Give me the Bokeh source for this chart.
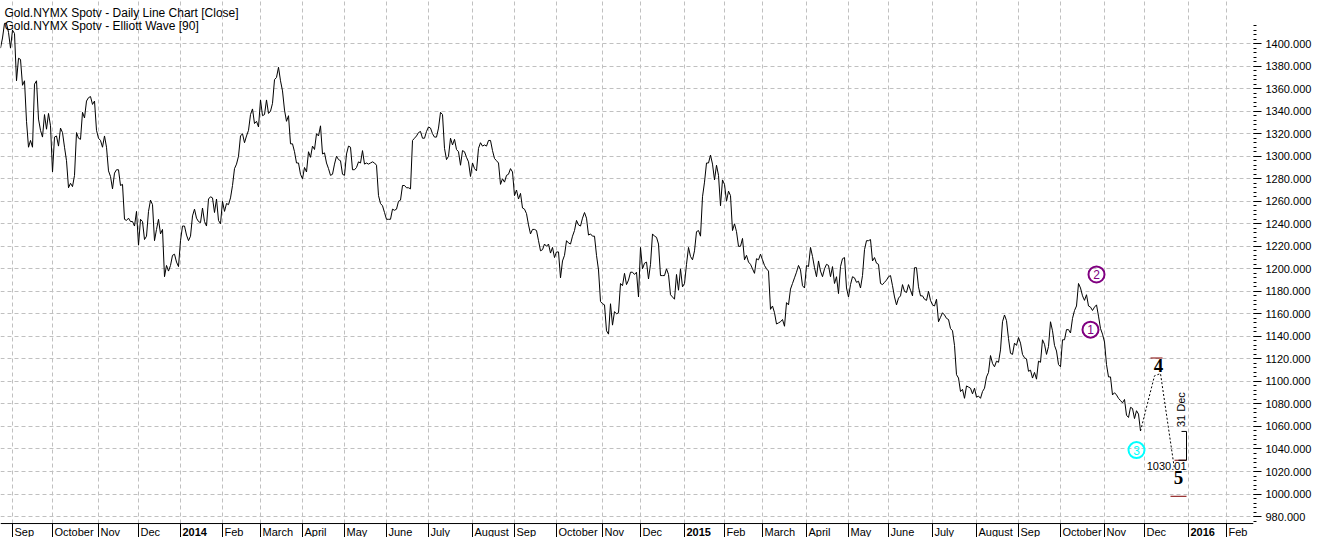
import math
import pandas as pd
from bokeh.plotting import figure
from bokeh.models import (Range1d, LinearAxis, FixedTicker, PrintfTickFormatter, Label,
                          ColumnDataSource, Span)
from bokeh.core.properties import value
from bokeh.embed import file_html
from bokeh.resources import INLINE

# ---------------- data ----------------
HOLIDAYS = ["2013-09-02", "2013-11-28", "2013-12-25",
            "2014-01-01", "2014-01-20", "2014-02-17", "2014-04-18", "2014-05-26", "2014-07-04",
            "2014-09-01", "2014-11-27", "2014-12-25",
            "2015-01-01", "2015-01-19", "2015-02-16", "2015-04-03", "2015-05-25", "2015-07-03",
            "2015-09-07", "2015-11-26", "2015-12-25",
            "2016-01-01", "2016-01-18", "2016-02-15"]

c2013_08 = [1396, 1405, 1418, 1418, 1410, 1396]
c2013_09 = [1412, 1409, 1367, 1387, 1386, 1363, 1367, 1331, 1308, 1314, 1308, 1364, 1367, 1333, 1323, 1317, 1337, 1324, 1338, 1327]
c2013_10 = [1286, 1317, 1318, 1309, 1325, 1321, 1308, 1296, 1272, 1276, 1273, 1283, 1321, 1316, 1315, 1339, 1334, 1349, 1352, 1353, 1346, 1349, 1323]
c2013_11 = [1316, 1314, 1308, 1318, 1308, 1287, 1282, 1271, 1285, 1288, 1288, 1274, 1275, 1244, 1243, 1245, 1242, 1242, 1238, 1251]
c2013_12 = [1221, 1244, 1242, 1226, 1229, 1251, 1261, 1257, 1225, 1235, 1244, 1231, 1235, 1193, 1203, 1198, 1203, 1212, 1213, 1206, 1202]
c2014_01 = [1225, 1238, 1238, 1230, 1225, 1229, 1247, 1253, 1245, 1242, 1241, 1254, 1242, 1238, 1262, 1264, 1263, 1250, 1262, 1243, 1240]
c2014_02 = [1260, 1251, 1258, 1257, 1263, 1274, 1289, 1293, 1300, 1318, 1320, 1312, 1318, 1323, 1337, 1342, 1329, 1331, 1326]
c2014_03 = [1350, 1336, 1337, 1350, 1338, 1340, 1347, 1368, 1370, 1379, 1367, 1358, 1341, 1331, 1336, 1311, 1311, 1304, 1294, 1294, 1284]
c2014_04 = [1280, 1290, 1286, 1304, 1299, 1309, 1306, 1320, 1318, 1327, 1302, 1303, 1294, 1289, 1283, 1284, 1293, 1300, 1297, 1296, 1284]
c2014_05 = [1283, 1302, 1309, 1308, 1288, 1288, 1290, 1295, 1294, 1305, 1293, 1294, 1293, 1294, 1295, 1294, 1292, 1265, 1258, 1256, 1250]
c2014_06 = [1244, 1244, 1244, 1253, 1252, 1253, 1260, 1261, 1274, 1274, 1272, 1272, 1271, 1314, 1316, 1318, 1321, 1322, 1316, 1316, 1322]
c2014_07 = [1326, 1325, 1320, 1317, 1317, 1325, 1339, 1337, 1307, 1297, 1300, 1316, 1310, 1315, 1306, 1304, 1292, 1305, 1304, 1299, 1295, 1282]
c2014_08 = [1294, 1289, 1287, 1307, 1312, 1309, 1310, 1309, 1314, 1314, 1305, 1298, 1296, 1294, 1275, 1280, 1277, 1283, 1284, 1289, 1286]
c2014_09 = [1265, 1270, 1262, 1267, 1254, 1253, 1249, 1239, 1231, 1235, 1235, 1234, 1225, 1216, 1217, 1222, 1220, 1222, 1214, 1219, 1210]
c2014_10 = [1215, 1215, 1192, 1207, 1212, 1225, 1223, 1222, 1229, 1234, 1243, 1239, 1238, 1245, 1250, 1245, 1230, 1231, 1229, 1229, 1212, 1199, 1171]
c2014_11 = [1169, 1168, 1145, 1142, 1169, 1150, 1162, 1160, 1161, 1187, 1185, 1196, 1186, 1190, 1197, 1197, 1195, 1197, 1175]
c2014_12 = [1219, 1200, 1205, 1206, 1191, 1204, 1231, 1229, 1228, 1222, 1194, 1194, 1194, 1200, 1195, 1177, 1175, 1173, 1195, 1181, 1200, 1184]
c2015_01 = [1187, 1204, 1219, 1211, 1208, 1216, 1233, 1234, 1229, 1264, 1277, 1294, 1294, 1301, 1293, 1279, 1292, 1283, 1256, 1279]
c2015_02 = [1275, 1260, 1269, 1265, 1234, 1240, 1233, 1220, 1220, 1227, 1208, 1212, 1206, 1204, 1200, 1196, 1209, 1208, 1213]
c2015_03 = [1208, 1203, 1200, 1198, 1164, 1167, 1161, 1151, 1152, 1153, 1155, 1149, 1170, 1168, 1182, 1187, 1192, 1197, 1203, 1199, 1185, 1183]
c2015_04 = [1203, 1202, 1219, 1211, 1201, 1193, 1207, 1198, 1193, 1200, 1204, 1203, 1193, 1202, 1187, 1193, 1178, 1202, 1209, 1210, 1183]
c2015_05 = [1175, 1186, 1193, 1192, 1188, 1189, 1183, 1194, 1217, 1225, 1225, 1226, 1207, 1210, 1205, 1204, 1187, 1186, 1188, 1190]
c2015_06 = [1193, 1194, 1185, 1175, 1168, 1174, 1176, 1186, 1180, 1179, 1186, 1181, 1176, 1201, 1201, 1184, 1176, 1176, 1173, 1172, 1180, 1172]
c2015_07 = [1168, 1167, 1173, 1153, 1157, 1161, 1159, 1156, 1155, 1147, 1145, 1132, 1106, 1103, 1091, 1093, 1085, 1096, 1095, 1094, 1089, 1094]
c2015_08 = [1086, 1087, 1085, 1091, 1094, 1104, 1108, 1123, 1116, 1113, 1118, 1117, 1128, 1153, 1159, 1154, 1138, 1125, 1124, 1134, 1132]
c2015_09 = [1139, 1134, 1124, 1121, 1120, 1109, 1110, 1103, 1108, 1102, 1118, 1117, 1137, 1133, 1124, 1131, 1153, 1145, 1132, 1127, 1115]
c2015_10 = [1113, 1137, 1137, 1146, 1146, 1143, 1156, 1163, 1167, 1187, 1183, 1176, 1172, 1177, 1167, 1166, 1163, 1166, 1168, 1158, 1147, 1142]
c2015_11 = [1135, 1115, 1104, 1104, 1088, 1090, 1088, 1085, 1083, 1081, 1084, 1070, 1068, 1077, 1076, 1067, 1074, 1071, 1056]

MONTHLY = [("2013-08", c2013_08), ("2013-09", c2013_09), ("2013-10", c2013_10), ("2013-11", c2013_11),
           ("2013-12", c2013_12), ("2014-01", c2014_01), ("2014-02", c2014_02), ("2014-03", c2014_03),
           ("2014-04", c2014_04), ("2014-05", c2014_05), ("2014-06", c2014_06), ("2014-07", c2014_07),
           ("2014-08", c2014_08), ("2014-09", c2014_09), ("2014-10", c2014_10), ("2014-11", c2014_11),
           ("2014-12", c2014_12), ("2015-01", c2015_01), ("2015-02", c2015_02), ("2015-03", c2015_03),
           ("2015-04", c2015_04), ("2015-05", c2015_05), ("2015-06", c2015_06), ("2015-07", c2015_07),
           ("2015-08", c2015_08), ("2015-09", c2015_09), ("2015-10", c2015_10), ("2015-11", c2015_11)]

# month axis labels (Sep 2013 .. Feb 2016)
x_labels = ["Sep", "October", "Nov", "Dec", "2014", "Feb", "March", "April", "May", "June", "July",
            "August", "Sep", "October", "Nov", "Dec", "2015", "Feb", "March", "April", "May", "June",
            "July", "August", "Sep", "October", "Nov", "Dec", "2016", "Feb"]
y_tick_values = [980, 1000, 1020, 1040, 1060, 1080, 1100, 1120, 1140, 1160, 1180, 1200, 1220,
                 1240, 1260, 1280, 1300, 1320, 1340, 1360, 1380, 1400]

# Elliott wave projection
proj_dates = ["2015-11-27", "2015-12-08", "2015-12-11", "2015-12-22"]
proj_values = [1056, 1105, 1107, 1022]
circle_labels = ["1", "2", "3"]
circle_dates = ["2015-10-22", "2015-10-27", "2015-11-24"]
circle_values = [1146, 1195, 1039]
circle_colors = ["#800080", "#800080", "#00FFFF"]
wave_labels = ["4", "5"]
wave_dates = ["2015-12-10", "2015-12-24"]
wave_values = [1114, 1015]
target_price = 1030.01
target_date = "2015-12-31"
band_high = 1120.8
band_low = 998.0

# ---------------- calendar ----------------
cal = pd.bdate_range("2013-08-23", "2016-02-29", freq="C", holidays=HOLIDAYS)
pos = {d.strftime("%Y-%m-%d"): i for i, d in enumerate(cal)}

def X(s):
    return pos[s]

xs, ys = [], []
for ym, vals in MONTHLY:
    days = [d for d in cal if d.strftime("%Y-%m") == ym]
    for d, v in zip(days, vals):
        xs.append(pos[d.strftime("%Y-%m-%d")])
        ys.append(v)

month_x = []
seen = set()
for d in cal:
    k = d.strftime("%Y-%m")
    if k >= "2013-09" and k not in seen:
        seen.add(k)
        month_x.append(pos[d.strftime("%Y-%m-%d")])

# ---------------- figure ----------------
X0, X1 = 0, 626.5
Y0, YB, Y1 = 961.4, 973.8, 1438.3      # frame bottom, date-band top, frame top
FONT = "Liberation Sans"

p = figure(width=1314, height=537, x_range=Range1d(X0, X1), y_range=Range1d(Y0, Y1),
           output_backend="svg", toolbar_location=None, y_axis_location="right",
           min_border=0, background_fill_color="white", border_fill_color="white")
p.outline_line_color = None

# bottom axis: only its line (outer border)
xa = p.xaxis[0]
xa.ticker = FixedTicker(ticks=[], minor_ticks=[])
xa.major_tick_out = 0
xa.major_tick_in = 0
xa.minor_tick_out = 0
xa.minor_tick_in = 0
xa.major_label_standoff = 0
xa.axis_line_color = "black"

ya = p.yaxis[0]
ya.ticker = FixedTicker(ticks=y_tick_values, minor_ticks=list(range(976, 1417, 4)))
ya.formatter = PrintfTickFormatter(format="%.3f")
ya.axis_line_color = None
ya.major_tick_in = 0
ya.major_tick_out = 8
ya.minor_tick_in = 0
ya.minor_tick_out = 3
ya.major_tick_line_color = "black"
ya.minor_tick_line_color = "black"
ya.major_label_standoff = 4
ya.major_label_text_font = FONT
ya.major_label_text_font_size = "11px"
ya.major_label_text_color = "black"

outer = LinearAxis(ticker=FixedTicker(ticks=[], minor_ticks=[]), major_tick_out=0, major_tick_in=0,
                   minor_tick_out=0, minor_tick_in=0, major_label_standoff=0,
                   axis_line_color="black")
p.add_layout(outer, "right")

p.xgrid[0].ticker = FixedTicker(ticks=month_x)
for g in (p.xgrid[0], p.ygrid[0]):
    g.grid_line_color = "#c0c0c0"
    g.grid_line_dash = "4 3"
    g.grid_line_width = 1

# date band: white strip, separators and month labels
p.quad(left=[X0], right=[X1], bottom=[Y0], top=[YB], fill_color="white", line_color=None)
p.add_layout(Span(location=YB, dimension="width", line_color="black", line_width=1))
p.segment(x0=month_x, y0=[Y0] * len(month_x), x1=month_x, y1=[YB] * len(month_x),
          line_color="black", line_width=1)
bold_mask = [lab.isdigit() for lab in x_labels]
msrc = ColumnDataSource(dict(x=month_x, y=[(Y0 + YB) / 2] * len(month_x), t=x_labels,
                             s=["bold" if b else "normal" for b in bold_mask]))
p.text("x", "y", text="t", source=msrc, text_align="left", text_baseline="middle",
       text_font=value(FONT), text_font_size="11px", text_font_style="s", text_color="black",
       x_offset=2, y_offset=1)

# titles
p.add_layout(Label(x=X0, y=Y1, text="Gold.NYMX Spotv - Daily Line Chart [Close]", text_font=FONT,
                   text_font_size="12px", text_align="left", text_baseline="top",
                   x_offset=4, y_offset=-5, text_color="black"))
p.add_layout(Label(x=X0, y=Y1, text="Gold.NYMX Spotv - Elliott Wave [90]", text_font=FONT,
                   text_font_size="12px", text_align="left", text_baseline="top",
                   x_offset=4, y_offset=-18, text_color="black"))

# price line
p.line(xs, ys, line_color="black", line_width=1)

# projection
p.line([X(d) for d in proj_dates], proj_values, line_color="black", line_width=1, line_dash="2 2")

# band lines (brown)
brown = "#800000"
p.segment(x0=[X("2015-12-04"), X("2015-12-18"), X("2015-12-22")],
          y0=[band_high, band_low, target_price],
          x1=[X("2015-12-14"), X("2015-12-31"), X("2015-12-31")],
          y1=[band_high, band_low, target_price], line_color=brown, line_width=1)

# bracket
xd = X(target_date)
p.segment(x0=[xd, xd - 2.5, xd - 4], y0=[1055.6, 1055.6, target_price],
          x1=[xd, xd, xd], y1=[target_price, 1055.6, target_price], line_color="black", line_width=1)
p.text(x=[xd], y=[1075], text=["31 Dec"], angle=math.pi / 2, text_align="center",
       text_baseline="bottom", text_font=value(FONT), text_font_size="11px", text_color="black")
p.text(x=[xd], y=[target_price], text=["1030.01"], text_align="right", text_baseline="top",
       text_font=value(FONT), text_font_size="11px", text_color="black", y_offset=2)

# circled wave labels
csrc = ColumnDataSource(dict(x=[X(d) for d in circle_dates], y=circle_values, t=circle_labels,
                             c=circle_colors))
p.scatter("x", "y", source=csrc, marker="circle", size=16, fill_color=None, line_color="c",
          line_width=2)
p.text("x", "y", text="t", source=csrc, text_align="center", text_baseline="middle",
       text_font=value(FONT), text_font_size="12px", text_color="c")

# 4 and 5
p.text([X(d) for d in wave_dates], wave_values, text=wave_labels, text_align="center",
       text_baseline="middle", text_font=value("Liberation Serif"), text_font_size="19px",
       text_font_style="bold", text_color="black")

open("out.html", "w").write(file_html(p, INLINE))
